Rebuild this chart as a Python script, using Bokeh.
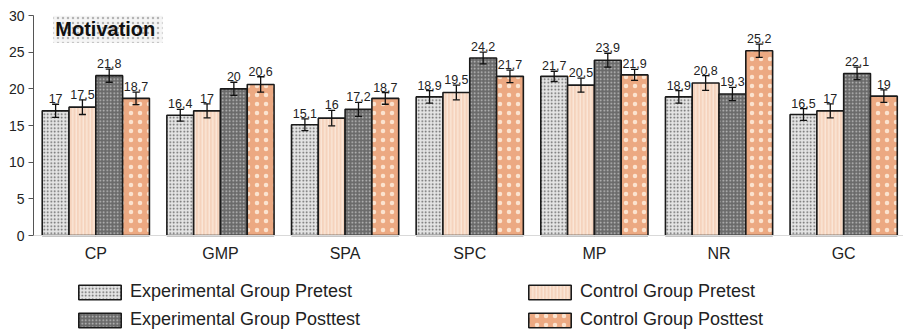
import numpy as np
from bokeh.plotting import figure
from bokeh.models import (ColumnDataSource, Range1d, FixedTicker, Span,
                          Whisker, TeeHead, Legend, LegendItem, Label, BoxAnnotation)
from bokeh.core.properties import value
from bokeh.embed import file_html
from bokeh.resources import INLINE

categories = ["CP", "GMP", "SPA", "SPC", "MP", "NR", "GC"]
series_names = ["Experimental Group Pretest", "Control Group Pretest",
                "Experimental Group Posttest", "Control Group Posttest"]
exp_pre = [17.0, 16.4, 15.1, 18.9, 21.7, 18.9, 16.5]
ctrl_pre = [17.5, 17.0, 16.0, 19.5, 20.5, 20.8, 17.0]
exp_post = [21.8, 20.0, 17.2, 24.2, 23.9, 19.3, 22.1]
ctrl_post = [18.7, 20.6, 18.7, 21.7, 21.9, 25.2, 19.0]
exp_pre_err = [0.9, 0.8, 0.8, 0.85, 0.7, 0.85, 0.8]
ctrl_pre_err = [1.0, 0.95, 1.05, 1.0, 0.95, 1.0, 0.95]
exp_post_err = [0.9, 0.9, 0.95, 0.8, 0.95, 0.9, 0.85]
ctrl_post_err = [0.85, 1.05, 0.8, 0.85, 0.75, 0.9, 0.85]
y_ticks = [0, 5, 10, 15, 20, 25, 30]

series = [exp_pre, ctrl_pre, exp_post, ctrl_post]
errors = [exp_pre_err, ctrl_pre_err, exp_post_err, ctrl_post_err]
styles = [
    dict(fill_color="#e4e4e4", hatch_pattern=".", hatch_color="#5e5e5e", hatch_scale=3.5, hatch_weight=1.6),
    dict(fill_color="#f5d3bd", hatch_pattern="|", hatch_color="#fdeee3", hatch_scale=3.5, hatch_weight=1.0),
    dict(fill_color="#6a6a6a", hatch_pattern=".", hatch_color="#c4c4c4", hatch_scale=3.5, hatch_weight=1.5),
    dict(fill_color="#eca982", hatch_pattern=".", hatch_color="#fbe3cf", hatch_scale=9, hatch_weight=0.8),
]

bar_w = 0.215
offsets = [-1.5, -0.5, 0.5, 1.5]
font = "Liberation Sans"

# frame spans to the bottom of the figure so the legend (drawn inside the frame) is visible
p = figure(width=903, height=331, output_backend="svg", toolbar_location=None,
           x_range=Range1d(-0.5, 6.48), y_range=Range1d(-13.09, 30),
           min_border_left=33, min_border_right=0, min_border_top=15, min_border_bottom=0)
p.outline_line_color = None
p.xgrid.visible = False
p.ygrid.visible = False
p.xaxis.visible = False

# baseline (category axis line)
p.add_layout(Span(location=0, dimension="width", line_color="#d9d9d9", line_width=1.2))

idx = np.arange(len(categories))
renderers = []
for k, (vals, errs, st) in enumerate(zip(series, errors, styles)):
    xs = idx + offsets[k] * bar_w
    vals = np.array(vals)
    errs = np.array(errs)
    src = ColumnDataSource(dict(x=xs, top=vals, lower=vals - errs, upper=vals + errs,
                                lab=[("%g" % v).replace(".", ",") for v in vals]))
    r = p.vbar(x="x", top="top", width=bar_w, bottom=0, source=src,
               line_color="#1a1a1a", line_width=1.6, **st)
    renderers.append(r)
    w = Whisker(base="x", lower="lower", upper="upper", source=src, line_color="#111111",
                line_width=1.3, level="overlay",
                upper_head=TeeHead(size=7, line_color="#111111", line_width=1.3),
                lower_head=TeeHead(size=7, line_color="#111111", line_width=1.3))
    p.add_layout(w)
    p.text(x="x", y="upper", text="lab", source=src, text_align="center",
           text_baseline="bottom", y_offset=-1, text_font=value(font),
           text_font_size="12.5px", text_color="#222222")

# category labels
cat_src = ColumnDataSource(dict(x=idx, y=np.zeros(len(categories)), t=categories))
p.text(x="x", y="y", text="t", source=cat_src, text_align="center", text_baseline="top",
       y_offset=9, text_font=value(font), text_font_size="16px", text_color="#222222")

# y axis
p.yaxis.ticker = FixedTicker(ticks=y_ticks)
p.yaxis.bounds = (0, 30)
p.yaxis.minor_tick_line_color = None
p.yaxis.major_tick_in = 0
p.yaxis.major_tick_out = 5
p.yaxis.axis_line_color = "#555555"
p.yaxis.major_tick_line_color = "#555555"
p.yaxis.major_label_text_font = font
p.yaxis.major_label_text_font_size = "14px"
p.yaxis.major_label_text_color = "#222222"
p.yaxis.major_label_standoff = 4

# title box
box = BoxAnnotation(left=-0.34, right=0.535, bottom=26.3, top=30,
                    fill_color="#f5f5f5", fill_alpha=1, line_color=None,
                    hatch_pattern=".", hatch_color="#b5b5b5", hatch_scale=5, hatch_weight=1)
p.add_layout(box)
p.add_layout(Label(x=-0.325, y=28.15, text="Motivation", text_font=font, text_font_size="20px",
                   text_font_style="bold", text_baseline="middle", text_color="#111111"))

# legends
leg_common = dict(glyph_width=53, glyph_height=18, label_height=18, label_standoff=4,
                  spacing=7, padding=0, margin=0, border_line_color=None,
                  background_fill_alpha=0, label_text_font=font,
                  label_text_font_size="18px", label_text_color="#222222")
leg1 = Legend(items=[LegendItem(label=series_names[0], renderers=[renderers[0]]),
                     LegendItem(label=series_names[2], renderers=[renderers[2]])],
              location=(40, 1), **leg_common)
leg2 = Legend(items=[LegendItem(label=series_names[1], renderers=[renderers[1]]),
                     LegendItem(label=series_names[3], renderers=[renderers[3]])],
              location=(490, 1), **leg_common)
p.add_layout(leg1)
p.add_layout(leg2)

open("out.html", "w").write(file_html(p, INLINE))
